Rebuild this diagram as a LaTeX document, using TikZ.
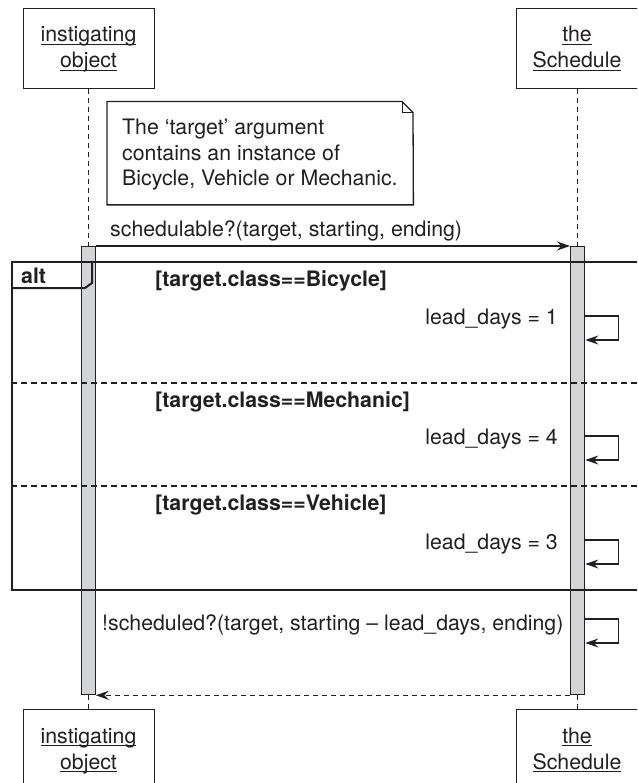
\documentclass[tikz,border=0pt]{standalone}
\usepackage{fontspec}
\setmainfont{TeX Gyre Heros}
\usetikzlibrary{arrows.meta}
\definecolor{ink}{RGB}{35,31,32}
\definecolor{actfill}{RGB}{211,212,214}
\newcommand{\uln}[1]{\setbox0\hbox{#1}\rlap{\rule[-2.8pt]{\wd0}{1.1pt}}\box0}
\begin{document}
\begin{tikzpicture}[x=1pt,y=-1pt,
  every node/.style={inner sep=0pt, text=ink, font=\fontsize{21.3}{26}\selectfont},
  headbox/.style={draw=ink, line width=1.3pt, minimum width=131pt, minimum height=80pt, anchor=north west},
  headtxt/.style={anchor=base},
  lifeline/.style={draw=ink, line width=1.2pt, dash pattern=on 5pt off 4pt},
  actbar/.style={draw=ink, fill=actfill, line width=1.3pt, minimum width=14pt, minimum height=448pt, anchor=north west},
  msg/.style={draw=ink, line width=1.3pt, -{Stealth[length=13pt,width=9pt,inset=4.5pt]}},
  ret/.style={msg, dash pattern=on 5pt off 4pt},
  framebox/.style={draw=ink, line width=2pt},
  sep/.style={draw=ink, line width=1.4pt, dash pattern=on 6pt off 4pt},
  notebox/.style={draw=ink, line width=1.3pt},
  txt/.style={anchor=base west},
  rtxt/.style={anchor=base east},
  guard/.style={anchor=base west, font=\fontsize{21.3}{26}\selectfont\bfseries},
]
\clip (0,0) rectangle (637,783);
\fill[white] (0,0) rectangle (637,783);

% lifeline heads
\node[headbox] (L1) at (23,8) {};
\node[headbox] (R1) at (516,8) {};
\node[headtxt] (L1a) at (88.5,42) {\uln{instigating}};
\node[headtxt] (L1b) at (88.5,68) {\uln{object}};
\node[headtxt] (R1a) at (577,42) {\uln{the}};
\node[headtxt] (R1b) at (577,68) {\uln{Schedule}};

\node[headbox] (L2) at (23,709) {};
\node[headbox] (R2) at (516,709) {};
\node[headtxt] (L2a) at (88.5,743) {\uln{instigating}};
\node[headtxt] (L2b) at (88.5,769) {\uln{object}};
\node[headtxt] (R2a) at (577,743) {\uln{the}};
\node[headtxt] (R2b) at (577,769) {\uln{Schedule}};

% activation bars
\node[actbar] (actL) at (80.5,246) {};
\node[actbar] (actR) at (570,246) {};

% lifelines
\draw[lifeline] (actL.north |- L1.south) -- (actL.north);
\draw[lifeline] (actR.north |- R1.south) -- (actR.north);
\draw[lifeline] (actL.south) -- (actL.south |- L2.north);
\draw[lifeline] (actR.south) -- (actR.south |- R2.north);

% note
\node[anchor=north west, minimum width=306pt, minimum height=103pt] (note) at (107,101.5) {};
\draw[notebox] (note.north west) -- ++(295,0) -- ++(11,11) -- (note.south east) -- (note.south west) -- cycle;
\draw[notebox] (note.north east) ++(-11,0) -- ++(0,11) -- ++(11,0);
\node[txt] (n1) at (122,135) {The ‘target’ argument};
\node[txt] (n2) at (122,161) {contains an instance of};
\node[txt] (n3) at (122,186) {Bicycle, Vehicle or Mechanic.};

% first message
\node[txt] (m1) at (110,237) {schedulable?(target, starting, ending)};
\draw[msg] (actL.north east) -- (actR.north west);

% alt frame
\node[framebox, anchor=north west, minimum width=660pt, minimum height=328pt] (alt) at (11,261) {};
\draw[framebox] (alt.north west) ++(81,0) -- ++(0,22) -- ++(-7,5) -- ++(-74,0);
\node[guard] (altlbl) at (21,283.5) {alt};
\draw[sep] (alt.west |- 0,383) -- (alt.east |- 0,383);
\draw[sep] (alt.west |- 0,486) -- (alt.east |- 0,486);

\node[guard] (g1) at (155,287) {[target.class==Bicycle]};
\node[guard] (g2) at (155,407) {[target.class==Mechanic]};
\node[guard] (g3) at (155,510) {[target.class==Vehicle]};

% self messages
\coordinate (s1) at (actR.east |- 0,316);
\coordinate (s2) at (actR.east |- 0,436);
\coordinate (s3) at (actR.east |- 0,540);
\coordinate (s4) at (actR.east |- 0,619);
\draw[msg] (s1) -- ++(33,0) -- ++(0,24) -- ++(-33,0);
\draw[msg] (s2) -- ++(33,0) -- ++(0,24) -- ++(-33,0);
\draw[msg] (s3) -- ++(33,0) -- ++(0,24) -- ++(-33,0);
\draw[msg] (s4) -- ++(33,0) -- ++(0,24) -- ++(-33,0);
\node[rtxt] (ld1) at (558,324) {lead\_days = 1};
\node[rtxt] (ld2) at (558,444) {lead\_days = 4};
\node[rtxt] (ld3) at (558,549) {lead\_days = 3};
\node[txt] (m2) at (102,630) {!scheduled?(target, starting – lead\_days, ending)};

% return
\draw[ret] (actR.south west) -- (actL.south east);
\end{tikzpicture}
\end{document}
